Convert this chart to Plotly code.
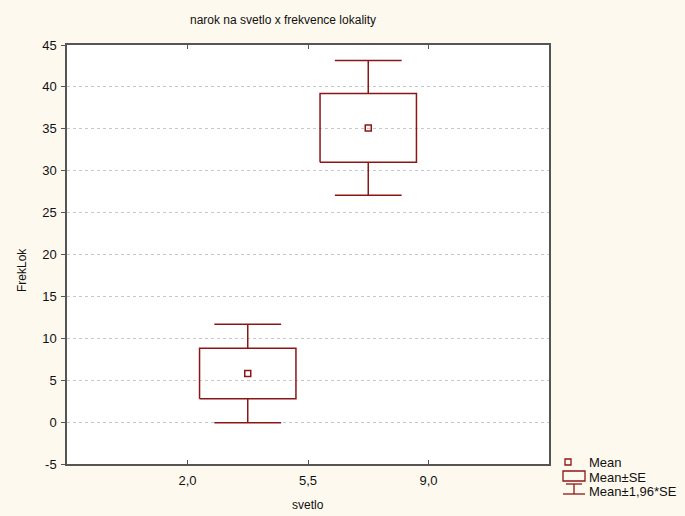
import plotly.graph_objects as go

# Group summaries: position on the svetlo axis, mean and standard error of FrekLok
group_pos = [3.75, 7.25]
means = [5.8, 35.1]
se = [3.0, 4.1]
z = 1.96

x_tickvals = [2.0, 5.5, 9.0]
x_ticktext = ["2,0", "5,5", "9,0"]
y_tickvals = [-5, 0, 5, 10, 15, 20, 25, 30, 35, 40, 45]
y_ticktext = ["-5", "0", "5", "10", "15", "20", "25", "30", "35", "40", "45"]

RED = "#8C1616"
BOX_HALF = 1.4
CAP_HALF = 0.97

fig = go.Figure()

for xc, m, s in zip(group_pos, means, se):
    lo, hi = m - s, m + s
    wlo, whi = m - z * s, m + z * s
    # Mean ± SE box
    fig.add_trace(go.Scatter(
        x=[xc - BOX_HALF, xc + BOX_HALF, xc + BOX_HALF, xc - BOX_HALF, xc - BOX_HALF],
        y=[lo, lo, hi, hi, lo], mode="lines",
        line=dict(color=RED, width=1.5), showlegend=False, hoverinfo="skip"))
    # Mean ± 1.96*SE whiskers with caps
    fig.add_trace(go.Scatter(
        x=[xc, xc, None, xc, xc, None, xc - CAP_HALF, xc + CAP_HALF, None,
           xc - CAP_HALF, xc + CAP_HALF],
        y=[hi, whi, None, lo, wlo, None, whi, whi, None, wlo, wlo], mode="lines",
        line=dict(color=RED, width=1.5), showlegend=False, hoverinfo="skip"))
    # Mean marker
    fig.add_trace(go.Scatter(
        x=[xc], y=[m], mode="markers",
        marker=dict(symbol="square-open", size=6, color=RED, line=dict(width=1.5)),
        showlegend=False, hoverinfo="skip"))

# Hand-drawn legend in paper coordinates
L = 482.0
H = 419.0
def px(xp):
    return (xp - 67) / L
def py(yp):
    return (464 - yp) / H

shapes = [
    dict(type="rect", xref="paper", yref="paper",
         x0=px(565), x1=px(571), y0=py(459), y1=py(465),
         line=dict(color=RED, width=1.3)),
    dict(type="rect", xref="paper", yref="paper",
         x0=px(563), x1=px(585), y0=py(471), y1=py(481),
         line=dict(color=RED, width=1.3)),
    dict(type="line", xref="paper", yref="paper",
         x0=px(566), x1=px(582), y0=py(484), y1=py(484),
         line=dict(color=RED, width=1.3)),
    dict(type="line", xref="paper", yref="paper",
         x0=px(574), x1=px(574), y0=py(484), y1=py(494),
         line=dict(color=RED, width=1.3)),
    dict(type="line", xref="paper", yref="paper",
         x0=px(563), x1=px(585), y0=py(494), y1=py(494),
         line=dict(color=RED, width=1.3)),
]

legend_items = [("Mean", 462), ("Mean±SE", 477), ("Mean±1,96*SE", 491)]
annotations = [
    dict(text=t, xref="paper", yref="paper", x=px(587), y=py(yy),
         xanchor="left", yanchor="middle", showarrow=False,
         font=dict(size=13, color="#111"))
    for t, yy in legend_items
]
# Axis titles placed as text
annotations += [
    dict(text="svetlo", xref="paper", yref="paper", x=px(308), y=py(505),
         xanchor="center", yanchor="middle", showarrow=False,
         font=dict(size=12, color="#111")),
    dict(text="FrekLok", xref="paper", yref="paper", x=px(22), y=py(270),
         xanchor="center", yanchor="middle", showarrow=False, textangle=-90,
         font=dict(size=12, color="#111")),
]

fig.update_layout(
    width=685, height=516,
    margin=dict(l=67, r=136, t=45, b=52),
    paper_bgcolor="#FDF9EE", plot_bgcolor="white",
    font=dict(family="Liberation Sans, Arial, sans-serif", size=13, color="#111"),
    title=dict(text="narok na svetlo x frekvence lokality", x=283 / 685, xanchor="center",
               y=1 - 20 / 516, yanchor="middle", font=dict(size=12)),
    shapes=shapes, annotations=annotations, showlegend=False,
)

fig.update_xaxes(
    range=[-1.5, 12.5], tickvals=x_tickvals, ticktext=x_ticktext,
    ticks="inside", ticklen=4, tickcolor="#555", showgrid=False, zeroline=False,
    showline=True, linecolor="#555", linewidth=1.5, mirror="ticks",
    ticklabelstandoff=4, tickfont=dict(size=13),
)
fig.update_yaxes(
    range=[-5, 45], tickvals=y_tickvals, ticktext=y_ticktext,
    ticks="outside", ticklen=4, tickcolor="#555", zeroline=False,
    showgrid=True, gridcolor="#C8C8C8", griddash="dot", gridwidth=1,
    showline=True, linecolor="#555", linewidth=1.5, mirror=True,
    tickfont=dict(size=13), ticklabelstandoff=2,
)

fig.write_html("out.html")
